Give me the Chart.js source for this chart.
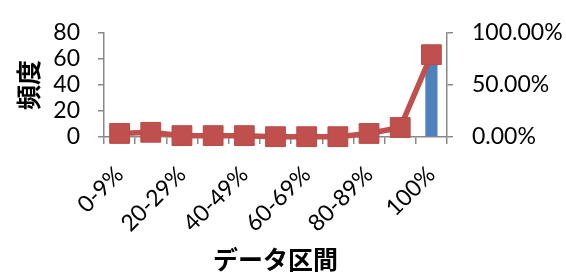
<!DOCTYPE html>
<html>
<head>
<meta charset="utf-8">
<script src="https://cdn.jsdelivr.net/npm/chart.js@4"></script>
<style>
  body { margin: 0; background: #fff; }
  #wrap { width: 566px; height: 275px; }
</style>
</head>
<body>
<div id="wrap"><canvas id="histChart" width="566" height="275"></canvas></div>
<script>
// データ区間
const categories = ['0-9%', '10-19%', '20-29%', '30-39%', '40-49%', '50-59%', '60-69%', '70-79%', '80-89%', '90-99%', '100%'];
// 頻度 (棒)
const frequency = [3, 4, 1, 1, 1, 0, 0, 0, 3, 7, 62];
// 折れ線 (右軸, %)
const percentLine = [3.4, 4.5, 1.3, 1.3, 1.3, 0.3, 0.3, 0.3, 3.4, 9.1, 79.0];
const leftTicks = [0, 20, 40, 60, 80];
const rightTicks = [0, 50, 100];

const axisGray = '#898989';
const tickFont = { family: 'Lato', size: 23 };
const titleFont = { family: 'Noto Sans CJK JP', size: 25, weight: 'bold' };

const ctx = document.getElementById('histChart').getContext('2d');
const chart = new Chart(ctx, {
    type: 'bar',
    data: {
        labels: categories,
        datasets: [
            {
                type: 'line',
                label: '累積 %',
                data: percentLine,
                yAxisID: 'y1',
                borderColor: '#C0504D',
                backgroundColor: '#C0504D',
                borderWidth: 5.5,
                pointStyle: 'rect',
                pointRadius: 14,
                pointBorderWidth: 1,
                pointBorderColor: '#B94A47',
                pointBackgroundColor: '#C0504D',
                tension: 0,
                clip: false,
                order: 0
            },
            {
                label: '頻度',
                data: frequency,
                yAxisID: 'y',
                backgroundColor: '#4F81BD',
                categoryPercentage: 1,
                barPercentage: 0.39,
                order: 1
            }
        ]
    },
    options: {
        responsive: false,
        animation: false,
        devicePixelRatio: 1,
        layout: { padding: { top: 20, right: 0, bottom: 0, left: 0 } },
        plugins: { legend: { display: false }, tooltip: { enabled: false } },
        scales: {
            x: {
                grid: { display: true, drawOnChartArea: false, tickLength: 7, color: axisGray, lineWidth: 1.5 },
                border: { color: axisGray, width: 1.5 },
                ticks: {
                    font: tickFont,
                    color: '#000',
                    autoSkip: false,
                    maxRotation: 45,
                    minRotation: 45,
                    padding: 17,
                    callback: (v, i) => (i % 2 === 0 ? categories[i] : '')
                },
                title: { display: true, text: 'データ区間', font: titleFont, color: '#000', padding: { top: 0, bottom: 1 } },
                afterFit: s => { s.height = 138; }
            },
            y: {
                position: 'left',
                min: 0,
                max: leftTicks[leftTicks.length - 1],
                afterBuildTicks: s => { s.ticks = leftTicks.map(v => ({ value: v })); },
                grid: { display: true, drawOnChartArea: false, tickLength: 6, color: axisGray, lineWidth: 1.5 },
                border: { color: axisGray, width: 1.5 },
                ticks: { font: tickFont, color: '#000', padding: 18, autoSkip: false },
                title: { display: true, text: '頻度', font: titleFont, color: '#000', padding: { top: 13, bottom: 0 } },
                afterFit: s => { s.width = 104; }
            },
            y1: {
                position: 'right',
                min: 0,
                max: rightTicks[rightTicks.length - 1],
                afterBuildTicks: s => { s.ticks = rightTicks.map(v => ({ value: v })); },
                grid: { display: true, drawOnChartArea: false, tickLength: 6, color: axisGray, lineWidth: 1.5 },
                border: { color: axisGray, width: 1.5 },
                ticks: { font: tickFont, color: '#000', padding: 19, autoSkip: false, callback: v => v.toFixed(2) + '%' },
                afterFit: s => { s.width = 119; }
            }
        }
    }
});
</script>
</body>
</html>
